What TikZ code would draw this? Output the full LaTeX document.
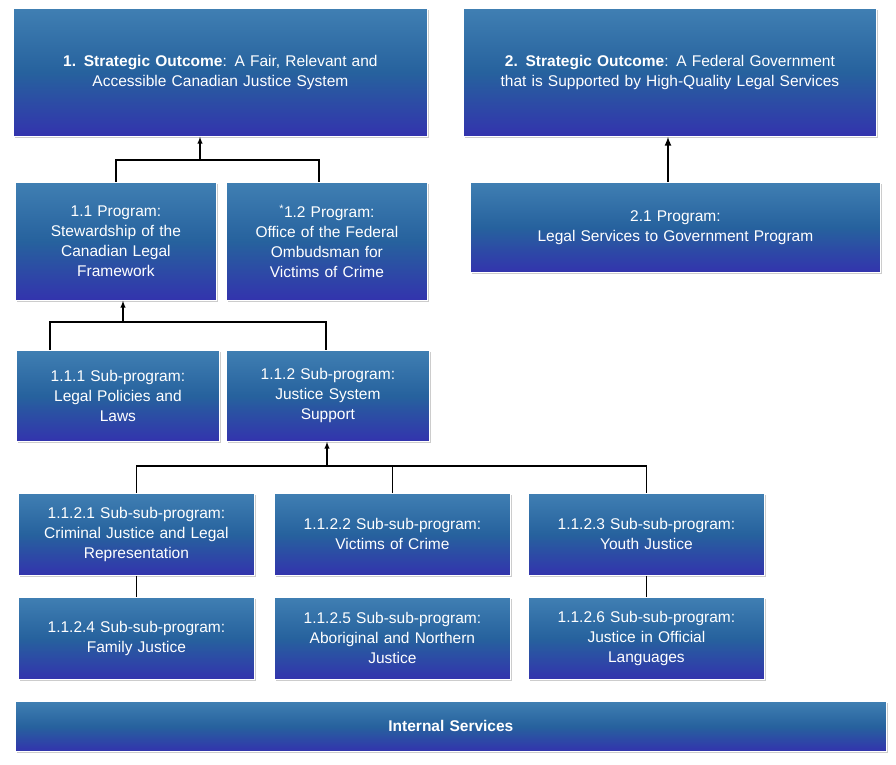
\documentclass[tikz,border=0pt]{standalone}
\usepackage{fontspec}
\setmainfont{Liberation Sans}
\usetikzlibrary{shadows}
\begin{document}
\begin{tikzpicture}[x=1pt,y=-1pt,
 box/.style={draw=white,line width=0.8pt,top color=blue!45!cyan!60!black!75,bottom color=blue!60!black!80,
   middle color=blue!50!cyan!55!black!85,
   drop shadow={shadow xshift=2pt,shadow yshift=-2pt,opacity=0.4},
   text=white,align=center,font=\fontsize{15.5}{20}\selectfont,inner sep=2pt},
 ln/.style={line width=1.3pt,black},
 ar/.style={ln,-latex}]
\useasboundingbox (0,0) rectangle (896,764);
\newcommand{\bx}[6]{\node[box,minimum width=#4-#2,minimum height=#5-#3,anchor=north west,text width=#4-#2-6] (#1) at (#2,#3) {#6};}
\bx{so1}{13}{8}{427}{136}{\textbf{1. Strategic Outcome}: A Fair, Relevant and\\Accessible Canadian Justice System\\[2.2em]}
\bx{so2}{463}{8}{876}{136}{\textbf{2. Strategic Outcome}: A Federal Government\\that is Supported by High-Quality Legal Services\\[2.2em]}
\bx{p11}{15}{182}{216}{300}{1.1 Program:\\Stewardship of the\\Canadian Legal\\Framework\\[0.9em]}
\bx{p12}{226}{182}{427}{300}{\textsuperscript{*}1.2 Program:\\Office of the Federal\\Ombudsman for\\Victims of Crime\\[0.9em]}
\bx{p21}{470}{182}{880}{272}{2.1 Program:\\Legal Services to Government Program\\[1.8em]}
\bx{s111}{16}{350}{219}{441}{1.1.1 Sub-program:\\Legal Policies and\\Laws\\[0.8em]}
\bx{s112}{226}{350}{429}{441}{1.1.2 Sub-program:\\Justice System\\Support\\[0.8em]}
\bx{a1}{18}{493}{254}{575}{1.1.2.1 Sub-sub-program:\\Criminal Justice and Legal\\Representation\\[0.1em]}
\bx{a2}{274}{493}{510}{575}{1.1.2.2 Sub-sub-program:\\Victims of Crime\\[1.2em]}
\bx{a3}{528}{493}{764}{575}{1.1.2.3 Sub-sub-program:\\Youth Justice\\[1.2em]}
\bx{b1}{18}{597}{254}{679}{1.1.2.4 Sub-sub-program:\\Family Justice\\[1.2em]}
\bx{b2}{274}{597}{510}{679}{1.1.2.5 Sub-sub-program:\\Aboriginal and Northern\\Justice\\[0.1em]}
\bx{b3}{528}{597}{764}{679}{1.1.2.6 Sub-sub-program:\\Justice in Official\\Languages\\[0.1em]}
\bx{is}{15}{701}{886}{751}{\textbf{Internal Services}}
\coordinate (j1) at (200,160);
\draw[ln] (p11.north) |- (j1) -| (319,182);
\draw[ar] (j1) -- (so1.south -| j1);
\coordinate (j2) at (123,322);
\draw[ln] (50,350) |- (j2) -| (326,350);
\draw[ar] (j2) -- (p11.south -| j2);
\coordinate (j3) at (327,466);
\draw[ln] (a1.north) |- (j3) -| (a3.north);
\draw[ln] (a2.north) -- (a2.north |- j3);
\draw[ar] (j3) -- (s112.south -| j3);
\draw[ln] (a1.south) -- (b1.north);
\draw[ln] (a3.south) -- (b3.north);
\draw[ar,line width=2pt] (p21.north -| 668,0) -- (so2.south -| 668,0);
\end{tikzpicture}
\end{document}
